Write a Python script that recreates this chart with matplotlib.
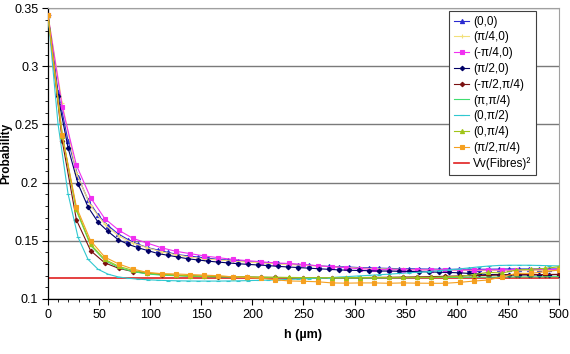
import matplotlib
matplotlib.use("Agg")
import matplotlib.pyplot as plt
from matplotlib.ticker import MultipleLocator

plt.rcParams['font.family'] = ['Liberation Sans', 'DejaVu Sans']

# sampling positions (h in micrometres)
h_fine = [0, 9.8, 19.6, 29.4, 39.2, 49.0, 58.8, 68.6, 78.4, 88.2,
          98.0, 107.8, 117.6, 127.5, 137.3, 147.1, 156.9, 166.7, 176.5, 186.3,
          196.1, 205.9, 215.7, 225.5, 235.3, 245.1, 254.9, 264.7, 274.5, 284.3,
          294.1, 303.9, 313.7, 323.5, 333.3, 343.1, 352.9, 362.7, 372.5, 382.4,
          392.2, 402.0, 411.8, 421.6, 431.4, 441.2, 451.0, 460.8, 470.6, 480.4,
          490.2, 500.0]
h_coarse = [0, 13.9, 27.8, 41.7, 55.6, 69.4, 83.3, 97.2, 111.1, 125.0,
            138.9, 152.8, 166.7, 180.6, 194.4, 208.3, 222.2, 236.1, 250.0, 263.9,
            277.8, 291.7, 305.6, 319.4, 333.3, 347.2, 361.1, 375.0, 388.9, 402.8,
            416.7, 430.6, 444.4, 458.3, 472.2, 486.1, 500.0]

p_0_0 = [0.344, 0.278, 0.236, 0.205, 0.185, 0.172, 0.163, 0.156, 0.151, 0.147,
         0.144, 0.142, 0.140, 0.138, 0.137, 0.136, 0.135, 0.134, 0.1335, 0.133,
         0.132, 0.1315, 0.131, 0.1305, 0.130, 0.1295, 0.129, 0.1285, 0.128, 0.1278,
         0.1275, 0.127, 0.1268, 0.1265, 0.1263, 0.126, 0.126, 0.1258, 0.1257, 0.1256,
         0.1255, 0.1255, 0.1255, 0.1255, 0.1256, 0.1257, 0.1258, 0.1258, 0.1258, 0.1258,
         0.1258, 0.1258]
p_pi4_0 = [0.344, 0.268, 0.208, 0.180, 0.164, 0.154, 0.148, 0.144, 0.1405, 0.138,
           0.136, 0.1345, 0.1335, 0.1325, 0.1317, 0.131, 0.1302, 0.1295, 0.129, 0.1283,
           0.1277, 0.127, 0.1265, 0.126, 0.1257, 0.1255, 0.1252, 0.125, 0.1248, 0.1246,
           0.1245, 0.1244, 0.1243, 0.1243, 0.1243, 0.1244, 0.1245]
p_mpi4_0 = [0.344, 0.265, 0.215, 0.187, 0.169, 0.159, 0.152, 0.148, 0.144, 0.141,
            0.139, 0.137, 0.1355, 0.134, 0.133, 0.132, 0.131, 0.1305, 0.1297, 0.1285,
            0.1277, 0.1268, 0.126, 0.1255, 0.1251, 0.125, 0.125, 0.125, 0.125, 0.1249,
            0.1249, 0.125, 0.125, 0.1251, 0.1252, 0.1253, 0.1255]
p_pi2_0 = [0.344, 0.274, 0.230, 0.199, 0.179, 0.166, 0.158, 0.151, 0.147, 0.144,
           0.1415, 0.139, 0.1375, 0.136, 0.1345, 0.1335, 0.1325, 0.1317, 0.131, 0.1303,
           0.1297, 0.1292, 0.1287, 0.128, 0.1275, 0.127, 0.1265, 0.126, 0.1255, 0.125,
           0.1247, 0.1245, 0.1243, 0.124, 0.124, 0.1238, 0.1237, 0.1235, 0.1233, 0.123,
           0.1228, 0.1225, 0.122, 0.1215, 0.121, 0.121, 0.1208, 0.1207, 0.1207, 0.1207,
           0.1208, 0.121]
p_mpi2_pi4 = [0.344, 0.236, 0.168, 0.1415, 0.131, 0.1263, 0.1235, 0.122, 0.121, 0.1203,
              0.1198, 0.1195, 0.1192, 0.119, 0.1188, 0.1186, 0.1185, 0.1184, 0.1183, 0.1183,
              0.1183, 0.1183, 0.1184, 0.1185, 0.1186, 0.1188, 0.119, 0.1192, 0.1195, 0.1198,
              0.12, 0.1203, 0.1206, 0.1208, 0.121, 0.121, 0.1212]
p_pi_pi4 = [0.344, 0.242, 0.176, 0.146, 0.133, 0.127, 0.1235, 0.1215, 0.1205, 0.12,
            0.1195, 0.1192, 0.119, 0.1188, 0.1186, 0.1185, 0.1184, 0.1183, 0.1182, 0.1181,
            0.118, 0.118, 0.118, 0.118, 0.1181, 0.1182, 0.1183, 0.1184, 0.1185, 0.1186,
            0.1187, 0.1188, 0.1189, 0.119, 0.119, 0.1191, 0.1192]
p_0_pi2 = [0.344, 0.2505, 0.1905, 0.153, 0.134, 0.1255, 0.1213, 0.119, 0.1178, 0.117,
           0.1165, 0.1161, 0.1158, 0.1156, 0.1155, 0.1154, 0.1154, 0.1154, 0.1155, 0.1156,
           0.1158, 0.116, 0.1162, 0.1165, 0.1168, 0.1171, 0.1175, 0.1179, 0.1183, 0.1188,
           0.1193, 0.1198, 0.1203, 0.1208, 0.1213, 0.1219, 0.1225, 0.123, 0.1236, 0.1243,
           0.125, 0.1258, 0.1267, 0.1276, 0.1283, 0.1288, 0.129, 0.129, 0.129, 0.1288,
           0.1286, 0.1284]
p_0_pi4 = [0.344, 0.240, 0.177, 0.147, 0.134, 0.128, 0.1245, 0.1225, 0.1213, 0.1205,
           0.12, 0.1197, 0.1195, 0.1192, 0.119, 0.1188, 0.1186, 0.1185, 0.1184, 0.1183,
           0.1183, 0.1183, 0.1184, 0.1185, 0.1185, 0.1186, 0.1186, 0.1186, 0.119, 0.1194,
           0.121, 0.1229, 0.1223, 0.1249, 0.1255, 0.1263, 0.1277]
p_pi2_pi4 = [0.344, 0.241, 0.179, 0.150, 0.136, 0.130, 0.1257, 0.1228, 0.1218, 0.1215,
             0.121, 0.1205, 0.12, 0.119, 0.1185, 0.1178, 0.1165, 0.1155, 0.1152, 0.1148,
             0.1138, 0.1136, 0.1138, 0.1138, 0.1135, 0.1138, 0.1136, 0.1135, 0.1135, 0.1143,
             0.1154, 0.1163, 0.119, 0.122, 0.122, 0.1234, 0.1249]
vv_fibres_sq = 0.1183

fig = plt.figure(figsize=(5.7, 3.54), dpi=100)
ax = fig.add_axes([0.0842, 0.1554, 0.8965, 0.822])

# red reference line drawn first so the curves sit on top
ref, = ax.plot([0, 500], [vv_fibres_sq, vv_fibres_sq], color='#e02020', lw=1.2,
               label='Vv(Fibres)²', zorder=2)

series = [
    (h_fine, p_0_0, '(0,0)', '#2a2ad0', '^', 3.0),
    (h_coarse, p_pi4_0, '(π/4,0)', '#f2e07a', '+', 3.5),
    (h_coarse, p_mpi4_0, '(-π/4,0)', '#f030f0', 's', 2.8),
    (h_fine, p_pi2_0, '(π/2,0)', '#000066', 'D', 2.3),
    (h_coarse, p_mpi2_pi4, '(-π/2,π/4)', '#7a1010', 'D', 2.3),
    (h_coarse, p_pi_pi4, '(π,π/4)', '#40dd70', '', 0),
    (h_fine, p_0_pi2, '(0,π/2)', '#30c8d0', '_', 3.5),
    (h_coarse, p_0_pi4, '(0,π/4)', '#a0c418', '^', 3.0),
    (h_coarse, p_pi2_pi4, '(π/2,π/4)', '#f5a020', 's', 2.8),
]
handles = []
for xs, ys, lab, col, mk, ms in series:
    ln, = ax.plot(xs, ys, color=col, lw=0.8, marker=mk, ms=ms, mew=0.8,
                  label=lab, zorder=3)
    handles.append(ln)
handles.append(ref)

ax.set_xlim(0, 500)
ax.set_ylim(0.1, 0.35)
ax.xaxis.set_major_locator(MultipleLocator(50))
ax.xaxis.set_minor_locator(MultipleLocator(10))
ax.yaxis.set_minor_locator(MultipleLocator(0.01))
ax.set_yticks([0.1, 0.15, 0.2, 0.25, 0.3, 0.35])
ax.set_yticklabels(['0.1', '0.15', '0.2', '0.25', '0.3', '0.35'])
ax.tick_params(axis='both', which='major', direction='out', length=4,
               width=0.8, labelsize=9, colors='black', pad=3)
ax.tick_params(axis='both', which='minor', direction='out', length=2.5, width=0.6)
ax.grid(axis='y', which='major', color='#7a7a7a', lw=1.0, zorder=1)

for s in ['top', 'right']:
    ax.spines[s].set_color('#a0a0a0')
    ax.spines[s].set_linewidth(0.8)
for s in ['left', 'bottom']:
    ax.spines[s].set_color('black')
    ax.spines[s].set_linewidth(0.9)

ax.set_xlabel('h (µm)', fontsize=9, fontweight='bold', labelpad=6)
fig.text(6 / 570, 1 - 153 / 354, 'Probability', rotation=90, ha='center',
         va='center', fontsize=8.5, fontweight='bold')

leg = ax.legend(handles=handles, loc='upper right',
                bbox_to_anchor=(0.955, 0.99), fontsize=8.5, frameon=True,
                fancybox=False, edgecolor='#404040', framealpha=1,
                handlelength=1.3, handletextpad=0.3, labelspacing=0.32,
                borderpad=0.4, borderaxespad=0)
leg.get_frame().set_linewidth(0.8)

fig.savefig('out.png', dpi=100)
